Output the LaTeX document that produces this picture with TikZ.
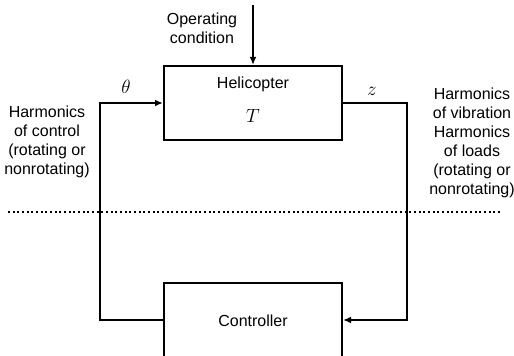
\documentclass[tikz,border=0pt]{standalone}
\usepackage{fontspec}
\setmainfont{Liberation Sans}
\usepackage{amsmath}
\usetikzlibrary{positioning,arrows.meta}

\begin{document}
\begin{tikzpicture}[x=0.75pt,y=-0.75pt,
	every node/.style={font=\fontsize{12}{14.25}\selectfont, inner sep=0pt},
	sym/.style={font=\fontsize{15}{18}\selectfont},
	blok/.style={draw, line width=1.5pt, minimum width=133.5pt, minimum height=55.5pt},
	wire/.style={line width=1.5pt},
	>={Latex[length=6pt,width=5pt]}]
	
	\useasboundingbox (0,0) rectangle (514,356);
	
	% plant and controller blocks
	\node[blok] (heli) at (253,103) {};
	\node (helitxt) at (253,84) {Helicopter};
	\node[sym] (T) at (253,116) {$T$};
	\node[blok] (ctrl) at (253,320) {};
	\node (ctrltxt) at (253,321) {Controller};
	
	% operating condition input
	\coordinate (op) at (253,5);
	\node[align=center] (optxt) at (202,28) {Operating\\condition};
	\draw[wire,->] (op) -- (heli.north);
	
	% feedback loop
	\coordinate (lft) at (100,212);
	\coordinate (rgt) at (407,212);
	\draw[wire,->] (ctrl.west) -| (lft) |- (heli.west);
	\draw[wire,->] (heli.east) -| (rgt) |- (ctrl.east);
	\node[sym] (theta) at (126,87) {$\theta$};
	\node[sym] (z) at (372,91) {$z$};
	
	% rotating / nonrotating frame split
	\coordinate (dl) at (8,212);
	\coordinate (dr) at (500,212);
	\draw[line width=1.5pt, dotted] (dl) -- (dr);
	
	\node[align=center] (ctrlharm) at (47,142) {Harmonics\\of control\\(rotating or\\nonrotating)};
	\node[align=center] (outharm) at (472,143) {Harmonics\\of vibration\\Harmonics\\of loads\\(rotating or\\nonrotating)};
	
\end{tikzpicture}
\end{document}
